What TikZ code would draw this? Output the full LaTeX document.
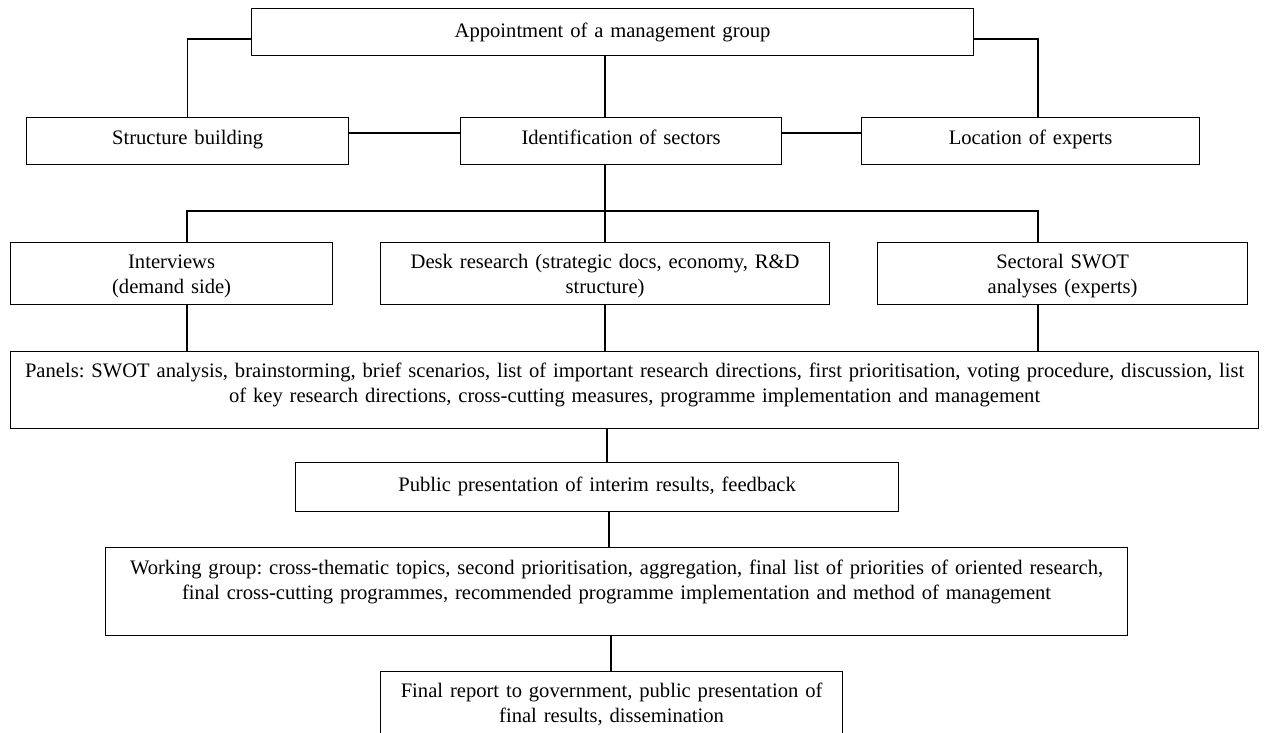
\documentclass[tikz,border=0pt]{standalone}
\usepackage{fontspec}
\setmainfont{Liberation Serif}
\usetikzlibrary{calc}
\tikzset{
  box/.style={draw, line width=1.2pt, anchor=north west, inner xsep=-20pt, inner ysep=0pt,
    align=center, font=\fontsize{20.6}{24.5}\selectfont\frenchspacing},
  conn/.style={line width=1.1pt}
}
\begin{document}
\begin{tikzpicture}[x=1pt,y=-1pt]
\fill[white] (0,0) rectangle (1266,733);
\useasboundingbox (0,0) rectangle (1266,733);
\begin{scope}
\clip (0,0) rectangle (1266,733);
\node[box, text width=762pt, text height=29pt, text depth=18pt] (top) at (251,8) {Appointment of a management group};
\node[box, text width=362pt, text height=27pt, text depth=20pt] (struct) at (26,117) {Structure building};
\node[box, text width=361pt, text height=27pt, text depth=20pt] (ident) at (460,117) {Identification of sectors};
\node[box, text width=378pt, text height=27pt, text depth=20pt] (loc) at (861,117) {Location of experts};
\node[box, text width=362pt, text height=26pt, text depth=36pt] (interv) at (10,242) {Interviews\\(demand side)};
\node[box, text width=489pt, text height=26pt, text depth=36pt] (desk) at (380,242) {Desk research (strategic docs, economy, R\&D\\structure)};
\node[box, text width=410pt, text height=26pt, text depth=36pt] (sect) at (877,242) {Sectoral SWOT\\analyses (experts)};
\node[box, text width=1288pt, text height=26pt, text depth=51pt] (panels) at (10,351) {Panels: SWOT analysis, brainstorming, brief scenarios, list of important research directions, first prioritisation, voting procedure, discussion, list\\of key research directions, cross-cutting measures, programme implementation and management};
\node[box, text width=643pt, text height=29pt, text depth=20pt] (public) at (295,462) {Public presentation of interim results, feedback};
\node[box, text width=1062pt, text height=27pt, text depth=61pt] (working) at (105,547) {Working group: cross-thematic topics, second prioritisation, aggregation, final list of priorities of oriented research,\\final cross-cutting programmes, recommended programme implementation and method of management};
\node[box, text width=502pt, text height=26pt, text depth=39pt] (final) at (380,671) {Final report to government, public presentation of\\final results, dissemination};
\end{scope}
\coordinate (lbus) at (187,211);
\coordinate (cbus) at (605,211);
\coordinate (rbus) at (1038,211);
\coordinate (p1) at (607,0);
\coordinate (p2) at (609,0);
\coordinate (p3) at (611,0);
% top connections
\draw[conn] (top.west |- 0,39) -| (struct.north);
\draw[conn] (top.east |- 0,39) -| (rbus |- loc.north);
\draw[conn] (cbus |- top.south) -- (cbus |- ident.north);
\draw[conn] (struct.east |- 0,133) -- (ident.west |- 0,133);
\draw[conn] (ident.east |- 0,133) -- (loc.west |- 0,133);
% bus to row 3
\draw[conn] (cbus |- ident.south) -- (cbus);
\draw[conn] (lbus |- interv.north) -- (lbus) -- (rbus) -- (rbus |- sect.north);
\draw[conn] (cbus) -- (cbus |- desk.north);
% row 3 to panels
\draw[conn] (lbus |- interv.south) -- (lbus |- panels.north);
\draw[conn] (cbus |- desk.south) -- (cbus |- panels.north);
\draw[conn] (rbus |- sect.south) -- (rbus |- panels.north);
% lower chain
\draw[conn] (p1 |- panels.south) -- (p1 |- public.north);
\draw[conn] (p2 |- public.south) -- (p2 |- working.north);
\draw[conn] (p3 |- working.south) -- (p3 |- final.north);
\end{tikzpicture}
\end{document}
